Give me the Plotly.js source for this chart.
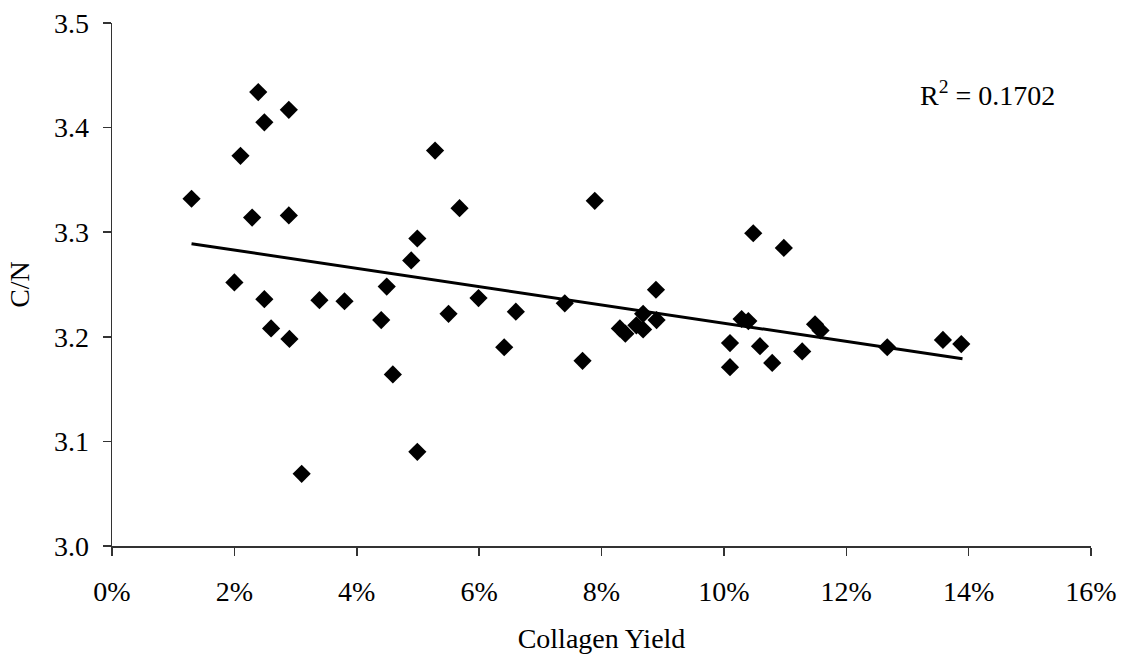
<!DOCTYPE html>
<html>
<head>
<meta charset="utf-8">
<script src="https://cdn.plot.ly/plotly-3.0.1.min.js"></script>
<style>
  html, body { margin: 0; padding: 0; background: #fff; }
  #chart { width: 1124px; height: 656px; }
</style>
</head>
<body>
<div id="chart"></div>
<script>
// Collagen yield (%) and C/N values
const collagenYield = [1.30, 2.00, 2.10, 2.29, 2.39, 2.49, 2.49, 2.60, 2.89, 2.89,
  2.90, 3.10, 3.39, 3.80, 4.40, 4.49, 4.59, 4.89, 4.99, 4.99,
  5.28, 5.50, 5.68, 5.99, 6.41, 6.60, 7.40, 7.69, 7.89, 8.30,
  8.39, 8.57, 8.68, 8.68, 8.90, 8.89, 10.10, 10.10, 10.29, 10.40,
  10.48, 10.59, 10.79, 10.98, 11.28, 11.49, 11.58, 12.67, 13.58, 13.88];
const cnRatio = [3.332, 3.252, 3.373, 3.314, 3.434, 3.405, 3.236, 3.208, 3.417, 3.316,
  3.198, 3.069, 3.235, 3.234, 3.216, 3.248, 3.164, 3.273, 3.294, 3.090,
  3.378, 3.222, 3.323, 3.237, 3.190, 3.224, 3.232, 3.177, 3.330, 3.208,
  3.203, 3.211, 3.222, 3.207, 3.216, 3.245, 3.194, 3.171, 3.217, 3.215,
  3.299, 3.191, 3.175, 3.285, 3.186, 3.212, 3.206, 3.190, 3.197, 3.193];
// Linear trend line endpoints
const trendX = [1.30, 13.90];
const trendY = [3.289, 3.179];
const rSquaredText = 'R<sup>2</sup> = 0.1702';
const xTitle = 'Collagen Yield';
const yTitle = 'C/N';

const FONT = 'Liberation Serif, Times New Roman, serif';

const traces = [
  {
    x: trendX, y: trendY, mode: 'lines', type: 'scatter',
    line: { color: '#000', width: 3 }, hoverinfo: 'skip', showlegend: false
  },
  {
    x: collagenYield, y: cnRatio, mode: 'markers', type: 'scatter',
    marker: { symbol: 'diamond', size: 14, color: '#000' }, showlegend: false
  }
];

const layout = {
  width: 1124, height: 656,
  margin: { l: 112, r: 33, t: 23, b: 110 },
  paper_bgcolor: '#fff', plot_bgcolor: '#fff',
  font: { family: FONT, color: '#000', size: 28 },
  showlegend: false,
  xaxis: {
    range: [0, 16], dtick: 2, tick0: 0, ticksuffix: '%',
    showgrid: false, zeroline: false,
    showline: true, linecolor: '#333', linewidth: 1.5,
    ticks: 'outside', ticklen: 8, tickcolor: '#333', tickwidth: 1.5,
    ticklabelstandoff: 12,
    tickfont: { family: FONT, size: 28, color: '#000' },
    title: { text: xTitle, font: { family: FONT, size: 28, color: '#000' }, standoff: 22 }
  },
  yaxis: {
    range: [3.0, 3.5], dtick: 0.1, tick0: 3.0, tickformat: '.1f',
    showgrid: false, zeroline: false,
    showline: true, linecolor: '#333', linewidth: 1.5,
    ticks: 'outside', ticklen: 8, tickcolor: '#333', tickwidth: 1.5,
    ticklabelstandoff: 8,
    tickfont: { family: FONT, size: 28, color: '#000' },
    title: { text: yTitle, font: { family: FONT, size: 28, color: '#000' }, standoff: 16 }
  },
  annotations: [{
    text: rSquaredText, xref: 'paper', yref: 'paper',
    x: 0.894, y: 0.865, xanchor: 'center', yanchor: 'middle',
    showarrow: false, font: { family: FONT, size: 28, color: '#000' }
  }]
};

Plotly.newPlot('chart', traces, layout, { displayModeBar: false, staticPlot: true });
</script>
</body>
</html>
